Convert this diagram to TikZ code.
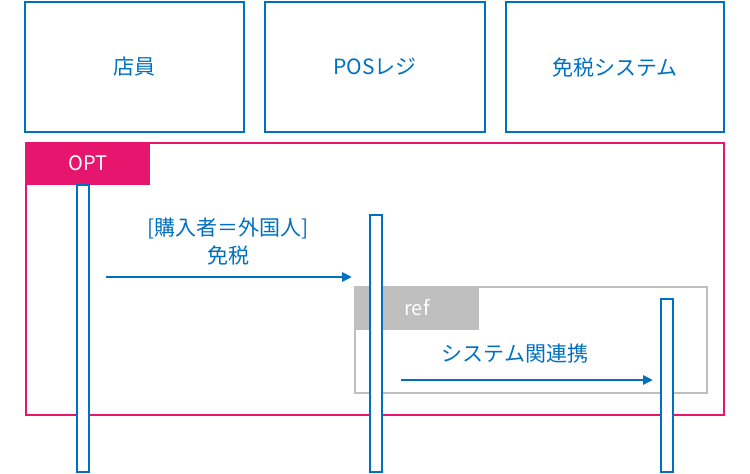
\documentclass[tikz,border=0pt]{standalone}
\usepackage{fontspec}
\setmainfont{Noto Sans CJK JP}
\usetikzlibrary{arrows.meta}
\definecolor{blu}{HTML}{0070C0}
\definecolor{mag}{HTML}{E6166E}
\definecolor{gry}{HTML}{BFBFBF}
\begin{document}
\begin{tikzpicture}[x=1pt,y=-1pt,
  actor/.style={draw=blu,line width=2.3pt,text=blu,font=\fontsize{21}{24}\selectfont},
  life/.style={draw=blu,line width=2.3pt,fill=white},
  msg/.style={draw=blu,line width=2.8pt,-{Triangle[length=10pt,width=9pt]}},
  lbl/.style={text=blu,font=\fontsize{21}{28}\selectfont,align=center}]
\useasboundingbox (0,0) rectangle (750,474);
\draw[actor] (25,2) rectangle (244,132) node[midway,draw=none] (a) {店員};
\draw[actor] (265,2) rectangle (485,132) node[midway,draw=none] (b) {POSレジ};
\draw[actor] (506,2) rectangle (724,132) node[midway,draw=none] (c) {免税システム};
% OPT frame
\draw[mag,line width=2.3pt] (26,143) rectangle (724,415);
\fill[mag] (26,143) rectangle (150,185);
\node[text=white,font=\fontsize{20}{24}\selectfont] (opt) at (88,163) {OPT};
% ref frame
\draw[gry,line width=2.3pt] (355,287) rectangle (707,393);
\fill[gry] (355,287) rectangle (479,330);
\node[text=white,font=\fontsize{20}{24}\selectfont] (ref) at (417,308) {ref};
% lifelines
\draw[life] (77,185) rectangle (89,472);
\draw[life] (370,215) rectangle (382,472);
\draw[life] (661,299) rectangle (673,472);
\coordinate (m1s) at (106,277); \coordinate (m1e) at (352,277);
\coordinate (m2s) at (401,380); \coordinate (m2e) at (653,380);
\draw[msg] (m1s) -- (m1e);
\draw[msg] (m2s) -- (m2e);
\node[lbl] (l1) at (228,242) {[購入者＝外国人]\\免税};
\node[lbl] (l2) at (515,354) {システム関連携};
\end{tikzpicture}
\end{document}
